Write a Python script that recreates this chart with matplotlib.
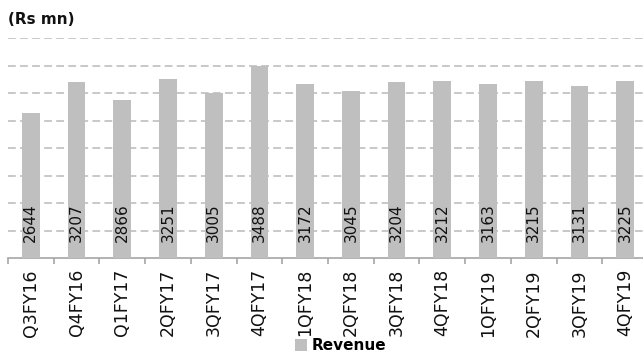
import matplotlib
matplotlib.use("Agg")
import matplotlib.pyplot as plt
from matplotlib.patches import Patch

quarters = ["Q3FY16", "Q4FY16", "Q1FY17", "2QFY17", "3QFY17", "4QFY17", "1QFY18",
            "2QFY18", "3QFY18", "4QFY18", "1QFY19", "2QFY19", "3QFY19", "4QFY19"]
revenue = [2644, 3207, 2866, 3251, 3005, 3488, 3172, 3045, 3204, 3212, 3163, 3215, 3131, 3225]
y_ticks = [0, 500, 1000, 1500, 2000, 2500, 3000, 3500, 4000]

bar_color = "#bfbfbf"
grid_color = "#c8c8c8"

plt.rcParams["font.family"] = ["DejaVu Sans"]

fig = plt.figure(figsize=(6.43, 3.60), dpi=100)
ax = fig.add_axes([8 / 643, 102 / 360, 640 / 643, 220 / 360])

x = list(range(len(quarters)))
ax.bar(x, revenue, width=0.39, color=bar_color, zorder=3)

ax.set_xlim(-0.5, len(quarters) - 0.5)
ax.set_ylim(0, 4000)
ax.set_yticks(y_ticks)
for v in y_ticks[1:]:
    ax.axhline(v, color=grid_color, lw=1.4, ls=(0, (4, 2.2)), zorder=1)

for xi, v in zip(x, revenue):
    ax.text(xi, 290, f"{v}", rotation=90, ha="center", va="bottom",
            fontsize=11, color="#111111", zorder=4)

for s in ["left", "right", "top"]:
    ax.spines[s].set_visible(False)
ax.spines["bottom"].set_color("#a6a6a6")
ax.spines["bottom"].set_linewidth(1.2)
ax.tick_params(axis="y", left=False, labelleft=False)

ax.set_xticks(x)
ax.set_xticklabels(quarters, rotation=90, fontsize=12.5, color="#111111")
ax.set_xticks([i - 0.5 for i in range(len(quarters) + 1)], minor=True)
ax.tick_params(axis="x", which="major", length=0, pad=8)
ax.tick_params(axis="x", which="minor", length=4, width=1.2, color="#a6a6a6")

fig.text(8 / 643, 1 - 19 / 360, "(Rs mn)", fontsize=11, fontweight="bold",
         ha="left", va="center", color="#111111")

fig.legend(handles=[Patch(facecolor=bar_color, label="Revenue")],
           loc="lower center", bbox_to_anchor=(0.53, -0.02), frameon=False,
           handlelength=0.8, handleheight=0.8, handletextpad=0.3,
           prop={"size": 11, "weight": "bold"})

fig.savefig("out.png", dpi=100)
